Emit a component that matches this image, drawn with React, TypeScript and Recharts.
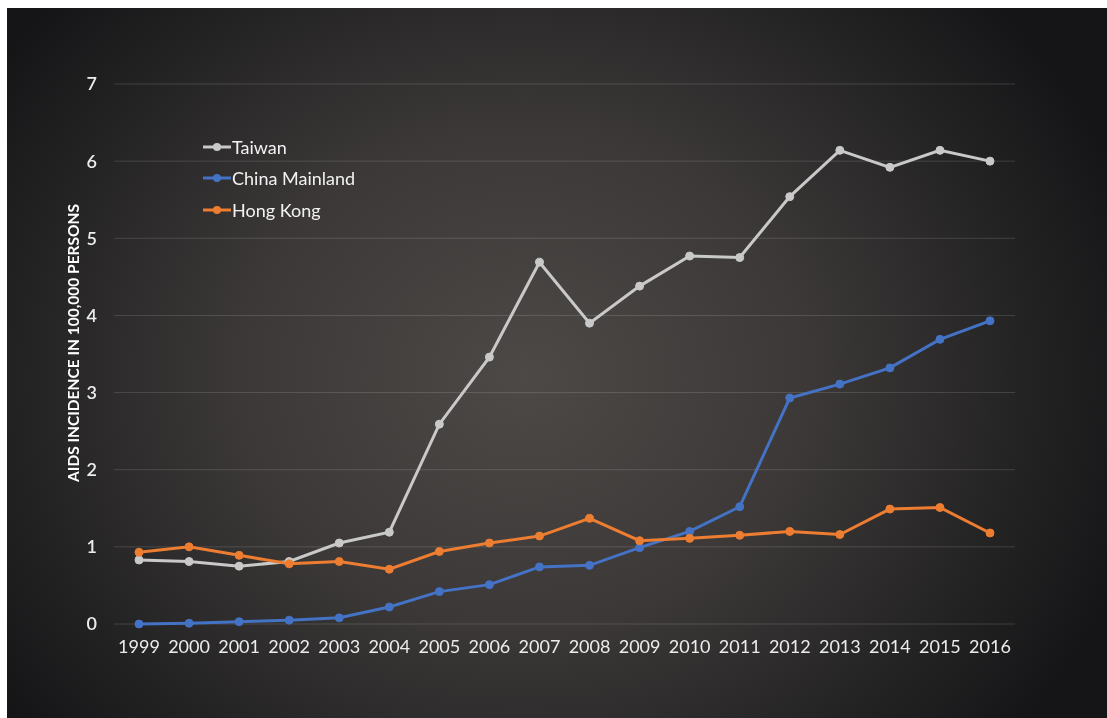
import React from "react";
import { LineChart, Line, XAxis, YAxis, CartesianGrid } from "recharts";

const years = ["1999","2000","2001","2002","2003","2004","2005","2006","2007","2008","2009","2010","2011","2012","2013","2014","2015","2016"];
const taiwan = [0.83,0.81,0.75,0.81,1.05,1.19,2.59,3.46,4.69,3.90,4.38,4.77,4.75,5.54,6.14,5.92,6.14,6.00];
const mainland = [0.0,0.01,0.03,0.05,0.08,0.22,0.42,0.51,0.74,0.76,0.99,1.20,1.52,2.93,3.11,3.32,3.69,3.93];
const hongKong = [0.93,1.00,0.89,0.78,0.81,0.71,0.94,1.05,1.14,1.37,1.08,1.11,1.15,1.20,1.16,1.49,1.51,1.18];
const yTicks = [0,1,2,3,4,5,6,7];

const seriesDefs = [
  { key: "Taiwan", color: "#c9c9c9", values: taiwan },
  { key: "China Mainland", color: "#4472c4", values: mainland },
  { key: "Hong Kong", color: "#ed7d31", values: hongKong },
];

const data = years.map((y, i) => ({
  year: y,
  Taiwan: taiwan[i],
  "China Mainland": mainland[i],
  "Hong Kong": hongKong[i],
}));

const FONT = "Lato, 'Open Sans', sans-serif";

const LegendBox = () => (
  <div
    style={{
      position: "absolute",
      left: 196,
      top: 123,
      fontFamily: FONT,
      fontSize: 18,
      color: "#f2f2f2",
    }}
  >
    {seriesDefs.map((s) => (
      <div key={s.key} style={{ display: "flex", alignItems: "center", height: 31.5 }}>
        <svg width={28} height={10} style={{ marginRight: 1 }}>
          <line x1={0} y1={5} x2={28} y2={5} stroke={s.color} strokeWidth={3} />
          <circle cx={14} cy={5} r={4} fill={s.color} />
        </svg>
        <span>{s.key}</span>
      </div>
    ))}
  </div>
);

const YLabel = (props: any) => {
  const vb = props.viewBox || {};
  const cx = (vb.x || 0) + (vb.width || 107) - 41;
  const cy = vb.y + vb.height / 2 - 11;
  return (
    <text
      x={cx}
      y={cy}
      transform={`rotate(-90, ${cx}, ${cy})`}
      textAnchor="middle"
      dominantBaseline="central"
      fill="#ffffff"
      fontFamily={FONT}
      fontWeight={700}
      fontSize={15.5}
    >
      AIDS INCIDENCE IN 100,000 PERSONS
    </text>
  );
};

export default function App() {
  return (
    <div>
      <style>{`html,body{margin:0;overflow:hidden;background:#fff}`}</style>
      <div
        style={{
          position: "fixed",
          left: 7,
          top: 8,
          right: 0,
          bottom: 0,
          overflow: "hidden",
          background:
            "radial-gradient(ellipse 58% 78% at 47% 52%, #4d4947 0%, #3b3837 45%, #232223 80%, #151517 100%)",
        }}
      >
        <LineChart
          width={1100}
          height={710}
          data={data}
          margin={{ top: 76, right: 92, left: 0, bottom: 64 }}
        >
          <CartesianGrid vertical={false} stroke="rgba(255,255,255,0.14)" strokeWidth={1} />
          <XAxis
            dataKey="year"
            axisLine={false}
            tickLine={false}
            padding={{ left: 25, right: 25 }}
            height={30}
            tickMargin={10}
            interval={0}
            tick={{ fill: "#ececec", fontSize: 18, fontFamily: FONT }}
          />
          <YAxis
            domain={[0, 7]}
            ticks={yTicks}
            width={107}
            axisLine={false}
            tickLine={false}
            tickMargin={11}
            tick={{ fill: "#ececec", fontSize: 18, fontFamily: FONT, fontWeight: 600 }}
            label={{ content: YLabel }}
          />
          {seriesDefs.map((s) => (
            <Line
              key={s.key}
              type="linear"
              dataKey={s.key}
              stroke={s.color}
              strokeWidth={3}
              dot={{ r: 4, fill: s.color, stroke: s.color, strokeWidth: 1 }}
              activeDot={false}
              isAnimationActive={false}
            />
          ))}
        </LineChart>
        <LegendBox />
      </div>
    </div>
  );
}
